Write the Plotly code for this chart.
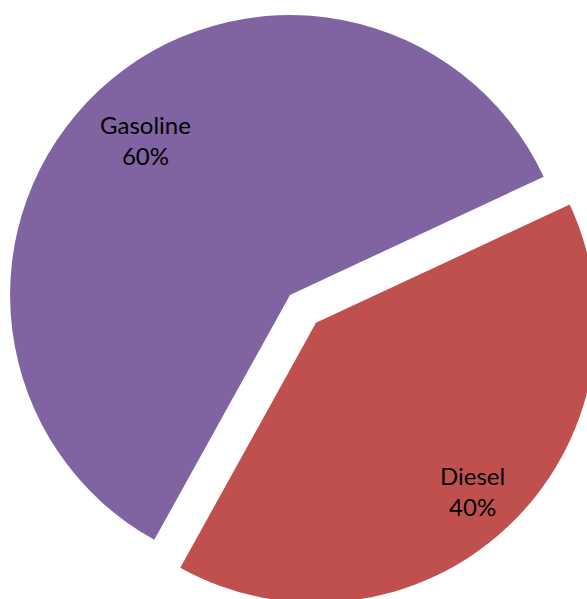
import math
import plotly.graph_objects as go

# Fuel mix shares (percent)
fuels = ["Gasoline", "Diesel"]
shares = [60, 40]
colors = ["#8064A2", "#C0504D"]
pulls = [0, 0.136]

# Layout / style settings
SIZE = 636                 # figure is square; pie fills it
ROTATION = 209             # compass angle where the first slice starts
LABEL_RADIUS = [0.755, 0.82]  # label distance from slice tip, as fraction of radius
FONT = dict(family="Lato, Carlito, Calibri, sans-serif", size=24, color="#000000")

fig = go.Figure(
    go.Pie(
        labels=fuels,
        values=shares,
        sort=False,
        direction="clockwise",
        rotation=ROTATION,
        pull=pulls,
        marker=dict(colors=colors, line=dict(width=0)),
        textinfo="none",
        hoverinfo="label+percent",
        showlegend=False,
    )
)

# Data labels, placed along each slice's bisector (same geometry plotly uses)
total = sum(shares)
radius = SIZE / (2 * (1 + max(pulls)))
cx = cy = SIZE / 2
start = ROTATION
annotations = []
for fuel, share, pull, frac in zip(fuels, shares, pulls, LABEL_RADIUS):
    span = 360 * share / total
    mid = math.radians(start + span / 2)
    d = (pull + frac) * radius
    px = cx + d * math.sin(mid)
    py = cy - d * math.cos(mid)
    annotations.append(
        dict(
            x=px / SIZE,
            y=1 - py / SIZE,
            xref="paper",
            yref="paper",
            text=f"{fuel}<br>{share / total:.0%}",
            showarrow=False,
            xanchor="center",
            yanchor="middle",
            align="center",
            font=FONT,
        )
    )
    start += span

fig.update_layout(
    width=SIZE,
    height=SIZE,
    autosize=False,
    margin=dict(l=0, r=0, t=0, b=0),
    paper_bgcolor="#FFFFFF",
    plot_bgcolor="#FFFFFF",
    annotations=annotations,
)

# The pie runs past the right and bottom edges of the page, so the plot
# div is shifted up-left and the page clips whatever overflows.
post = """
document.documentElement.style.overflow = 'hidden';
document.body.style.margin = '0';
document.body.style.overflow = 'hidden';
var gd = document.getElementById('{plot_id}');
gd.style.position = 'absolute';
gd.style.left = '-28px';
gd.style.top = '-23px';
"""

fig.write_html("out.html", post_script=post, config={"displayModeBar": False})
